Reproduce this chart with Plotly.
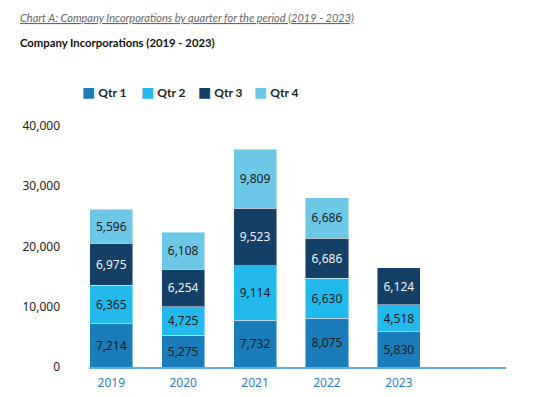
import plotly.graph_objects as go

years = ["2019", "2020", "2021", "2022", "2023"]
qtr1 = [7214, 5275, 7732, 8075, 5830]
qtr2 = [6365, 4725, 9114, 6630, 4518]
qtr3 = [6975, 6254, 9523, 6686, 6124]
qtr4 = [5596, 6108, 9809, 6686, None]
series_names = ["Qtr 1", "Qtr 2", "Qtr 3", "Qtr 4"]
y_ticks = [0, 10000, 20000, 30000, 40000]
y_tick_labels = ["0", "10,000", "20,000", "30,000", "40,000"]

colors = ["#1a7cb8", "#22b9ec", "#143f67", "#6dc7e6"]
text_colors = ["#1b1b1b", "#1b1b1b", "#f2f2f2", "#1b1b1b"]

# figure coordinates (page body has an 8px margin)
W, H = 546, 389
ML, MR, MT, MB = 81, 48, 118, 30
PW, PH = W - ML - MR, H - MT - MB

def px_x(fx):
    return (fx - ML) / PW

def px_y(fy):
    return 1 + (MT - fy) / PH

x_pos = list(range(len(years)))
fig = go.Figure()
for name, vals, c, tc in zip(series_names, [qtr1, qtr2, qtr3, qtr4], colors, text_colors):
    fig.add_trace(go.Bar(
        x=x_pos, y=vals, name=name, width=0.6,
        marker=dict(color=c, line=dict(color="rgba(255,255,255,0.45)", width=1)),
        text=[f"{v:,}" if v is not None else "" for v in vals],
        textposition="inside", insidetextanchor="middle", textangle=0,
        constraintext="none",
        textfont=dict(family="Noto Sans", size=12, color=tc),
        hoverinfo="skip", showlegend=False,
    ))

legend_x = [72, 131, 188, 244]
annotations = [
    dict(text="<i><u>Chart A: Company Incorporations by quarter for the period (2019 - 2023)</u></i>",
         xref="paper", yref="paper", x=px_x(10), y=px_y(9),
         xanchor="left", yanchor="middle", showarrow=False,
         font=dict(family="Lato", size=11, color="#666666")),
    dict(text="<b>Company Incorporations (2019 - 2023)</b>",
         xref="paper", yref="paper", x=px_x(10), y=px_y(35),
         xanchor="left", yanchor="middle", showarrow=False,
         font=dict(family="Lato", size=11.3, color="#111111")),
]
for name, c, lx in zip(series_names, colors, legend_x):
    annotations.append(dict(
        text=f"<span style='color:{c};font-size:14px;font-family:DejaVu Sans'>■</span> <b>{name}</b>",
        xref="paper", yref="paper", x=px_x(lx), y=px_y(84),
        xanchor="left", yanchor="middle", showarrow=False,
        font=dict(family="Lato", size=12, color="#222222")))

fig.update_layout(
    barmode="stack",
    width=W, height=H,
    margin=dict(l=ML, r=MR, t=MT, b=MB, autoexpand=False),
    paper_bgcolor="white", plot_bgcolor="white",
    showlegend=False,
    xaxis=dict(tickmode="array", tickvals=x_pos, ticktext=years,
               range=[-0.31, 5.49], showgrid=False, zeroline=False,
               showline=True, linecolor="#5aaee0", linewidth=2,
               ticks="", ticklabelstandoff=4, automargin=False,
               tickfont=dict(family="Noto Sans", size=12, color="#2e7fc0")),
    yaxis=dict(tickmode="array", tickvals=y_ticks, ticktext=y_tick_labels,
               range=[0, 40000], showgrid=False, zeroline=False, showline=False,
               ticks="", ticklabelstandoff=28, automargin=False,
               tickfont=dict(family="Noto Sans", size=12, color="#222222")),
    annotations=annotations,
)

fig.write_html("out.html")
